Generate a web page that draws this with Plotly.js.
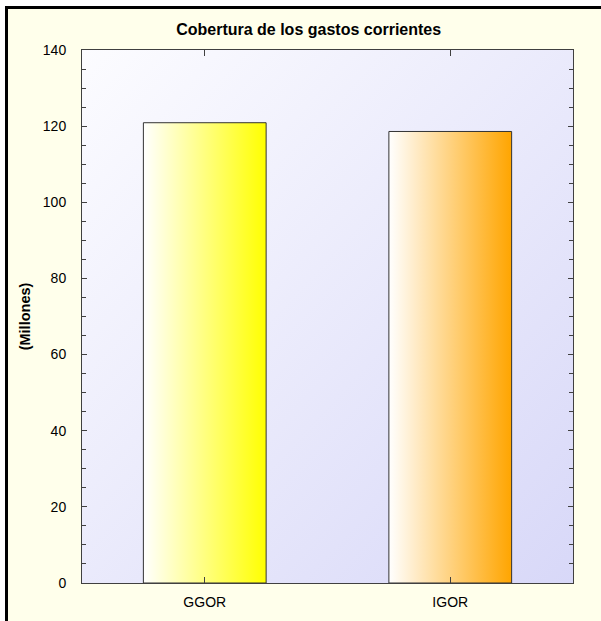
<!DOCTYPE html>
<html>
<head>
<meta charset="utf-8">
<script src="https://cdn.plot.ly/plotly-3.0.1.min.js"></script>
<style>
  html, body { margin: 0; padding: 0; background: #ffffff; width: 601px; height: 621px; overflow: hidden; }
  #frame { position: absolute; left: 5px; top: 6px; width: 596px; height: 615px;
           border-top: 3px solid #000; border-left: 3px solid #000; background: #FFFFEB; box-sizing: border-box; }
  #chart { position: absolute; left: 0; top: 0; width: 593px; height: 612px; }
</style>
</head>
<body>
<div id="frame"><div id="chart"></div></div>
<script>
// ---- data ----
const categories = ["GGOR", "IGOR"];
const values = [120.9, 118.6];
const chartTitle = "Cobertura de los gastos corrientes";
const yTitle = "(Millones)";
const yTickVals = [0, 20, 40, 60, 80, 100, 120, 140];

// ---- styles ----
const barEndColors = ["#FFFF00", "#FFA500"];
const axisColor = "#404040";
const font = "Liberation Sans, Arial, sans-serif";

const trace = {
  type: "bar",
  x: categories,
  y: values,
  width: 0.5,
  marker: { color: barEndColors, line: { color: "#333333", width: 1 } },
  hoverinfo: "none"
};

const layout = {
  width: 593, height: 612,
  margin: { l: 74, r: 28, t: 41, b: 38 },
  paper_bgcolor: "rgba(0,0,0,0)",
  plot_bgcolor: "#E8E8FA",
  showlegend: false,
  title: { text: "<b>" + chartTitle + "</b>", x: 0.507, xref: "container", xanchor: "center",
           y: 1 - 20 / 612, yref: "container", yanchor: "middle",
           font: { family: font, size: 16, color: "#000" } },
  font: { family: font, size: 14, color: "#000" },
  xaxis: {
    type: "category", range: [-0.5, 1.5],
    showline: true, linecolor: axisColor, linewidth: 1, mirror: "ticks",
    ticks: "inside", ticklen: 6, tickcolor: axisColor, tickwidth: 1,
    showgrid: false, zeroline: false, ticklabelstandoff: 6,
    tickfont: { family: font, size: 14, color: "#000" }
  },
  yaxis: {
    range: [0, 140], tickmode: "array", tickvals: yTickVals,
    showline: true, linecolor: axisColor, linewidth: 1, mirror: "ticks",
    ticks: "inside", ticklen: 5, tickcolor: axisColor, tickwidth: 1,
    minor: { dtick: 5, ticks: "inside", ticklen: 4, tickcolor: axisColor, tickwidth: 1, showgrid: false },
    showgrid: false, zeroline: false, ticklabelstandoff: 12,
    tickfont: { family: font, size: 14, color: "#000" },
    title: { text: "<b>" + yTitle + "</b>", standoff: 8, font: { family: font, size: 14.5, color: "#000" } }
  },
  xaxis2: {
    overlaying: "x", anchor: "y", side: "bottom", range: [-0.5, 1.5],
    tickmode: "array", tickvals: [0, 1], showticklabels: false,
    ticks: "outside", ticklen: 5, tickcolor: axisColor, tickwidth: 1,
    showline: false, showgrid: false, zeroline: false
  },
  yaxis2: {
    overlaying: "y", anchor: "x", side: "left", range: [0, 140],
    tickmode: "array", tickvals: yTickVals, showticklabels: false,
    ticks: "outside", ticklen: 5, tickcolor: axisColor, tickwidth: 1,
    minor: { dtick: 5, ticks: "outside", ticklen: 2, tickcolor: axisColor, tickwidth: 1, showgrid: false },
    showline: false, showgrid: false, zeroline: false
  }
};

const NS = "http://www.w3.org/2000/svg";
function makeGrad(defs, id, stops, x2, y2) {
  const g = document.createElementNS(NS, "linearGradient");
  g.setAttribute("id", id);
  g.setAttribute("x1", "0"); g.setAttribute("y1", "0");
  g.setAttribute("x2", x2); g.setAttribute("y2", y2);
  stops.forEach(([off, col]) => {
    const s = document.createElementNS(NS, "stop");
    s.setAttribute("offset", off);
    s.setAttribute("stop-color", col);
    g.appendChild(s);
  });
  defs.appendChild(g);
}

Plotly.newPlot("chart", [trace], layout, { staticPlot: true, displayModeBar: false }).then(gd => {
  const svg = gd.querySelector("svg.main-svg");
  let defs = svg.querySelector("defs");
  if (!defs) { defs = document.createElementNS(NS, "defs"); svg.insertBefore(defs, svg.firstChild); }
  makeGrad(defs, "bgGrad", [["0", "#FCFCFF"], ["1", "#D8D8F8"]], "1", "1");
  barEndColors.forEach((c, i) => makeGrad(defs, "barGrad" + i, [["0", "#FFFFFF"], ["1", c]], "1", "0"));
  const bg = svg.querySelector(".bglayer .bg") || svg.querySelector("rect.bg");
  if (bg) bg.style.fill = "url(#bgGrad)";
  svg.querySelectorAll(".trace.bars .point path").forEach((p, i) => {
    p.style.fill = "url(#barGrad" + i + ")";
  });
});
</script>
</body>
</html>
